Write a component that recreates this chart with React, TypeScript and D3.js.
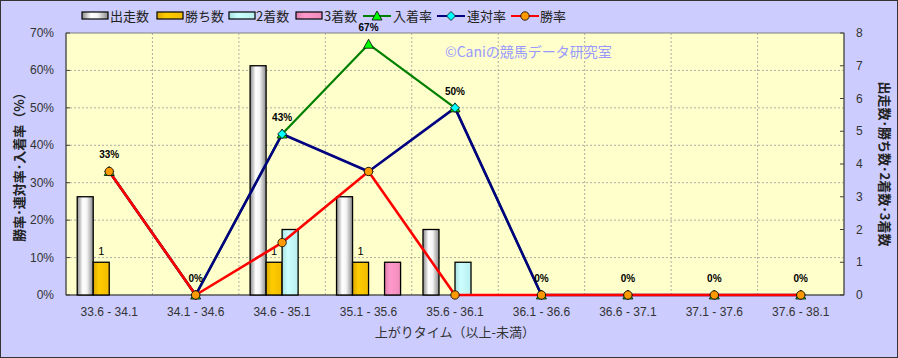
import React from "react";
import * as d3 from "d3";

const categories = ["33.6 - 34.1", "34.1 - 34.6", "34.6 - 35.1", "35.1 - 35.6", "35.6 - 36.1", "36.1 - 36.6", "36.6 - 37.1", "37.1 - 37.6", "37.6 - 38.1"];
const runs = [3, 0, 7, 3, 2, 0, 0, 0, 0];
const wins = [1, 0, 1, 1, 0, 0, 0, 0, 0];
const seconds = [0, 0, 2, 0, 1, 0, 0, 0, 0];
const thirds = [0, 0, 0, 1, 0, 0, 0, 0, 0];
const placeRate = [33, 0, 43, 67, 50, 0, 0, 0, 0];
const quinellaRate = [33, 0, 43, 33, 50, 0, 0, 0, 0];
const winRate = [33, 0, 14, 33, 0, 0, 0, 0, 0];
const placeLabels = ["33%", "0%", "43%", "67%", "50%", "0%", "0%", "0%", "0%"];
const leftTicks = [0, 10, 20, 30, 40, 50, 60, 70];
const rightTicks = [0, 1, 2, 3, 4, 5, 6, 7, 8];

const W = 898, H = 358;
const L = 66, R = 844, T = 33, B = 295;
const JP = "'Noto Sans CJK JP', sans-serif";
const NUM = "'Liberation Sans', Arial, sans-serif";

const barSeries = [
  { key: "出走数", values: runs, fill: "url(#gWhite)" },
  { key: "勝ち数", values: wins, fill: "url(#gGold)" },
  { key: "2着数", values: seconds, fill: "url(#gCyan)" },
  { key: "3着数", values: thirds, fill: "url(#gPink)" },
];

export default function App() {
  const x = d3.scaleBand<string>().domain(categories).range([L, R]).paddingInner(0).paddingOuter(0);
  const x1 = d3.scaleBand<string>().domain(barSeries.map((s) => s.key)).range([0, x.bandwidth()]).paddingInner(0).paddingOuter(0.7);
  const yL = d3.scaleLinear().domain([0, 70]).range([B, T]);
  const yR = d3.scaleLinear().domain([0, 8]).range([B, T]);
  const cx = (c: string) => (x(c) as number) + x.bandwidth() / 2;

  const lineGen = (vals: number[]) =>
    d3.line<number>().x((_, i) => cx(categories[i])).y((v) => yL(v))(vals) as string;

  const tri = (px: number, py: number) => `M${px},${py - 5}L${px + 5},${py + 4}L${px - 5},${py + 4}Z`;
  const dia = (px: number, py: number) => `M${px},${py - 4.5}L${px + 4.5},${py}L${px},${py + 4.5}L${px - 4.5},${py}Z`;

  const lineSeries = [
    { key: "入着率", values: placeRate, color: "#008000", width: 2.2, marker: "tri", mfill: "#00FF00" },
    { key: "連対率", values: quinellaRate, color: "#000080", width: 2.6, marker: "dia", mfill: "#00FFFF" },
    { key: "勝率", values: winRate, color: "#FF0000", width: 2.6, marker: "circ", mfill: "#FF9900" },
  ];

  const drawMarker = (m: string, fill: string, px: number, py: number, k: string) => {
    if (m === "tri") return <path key={k} d={tri(px, py)} fill={fill} stroke="#000" strokeWidth={0.8} />;
    if (m === "dia") return <path key={k} d={dia(px, py)} fill={fill} stroke="#000" strokeWidth={0.8} />;
    return <circle key={k} cx={px} cy={py} r={4.2} fill={fill} stroke="#000" strokeWidth={0.8} />;
  };

  // legend layout
  const legendItems = [
    { type: "bar", fill: "url(#gWhite)", label: "出走数", sx: 82, tx: 110 },
    { type: "bar", fill: "url(#gGold)", label: "勝ち数", sx: 157, tx: 185 },
    { type: "bar", fill: "url(#gCyan)", label: "2着数", sx: 229, tx: 256 },
    { type: "bar", fill: "url(#gPink)", label: "3着数", sx: 296, tx: 324 },
    { type: "line", color: "#008000", marker: "tri", mfill: "#00FF00", label: "入着率", sx: 363, tx: 393 },
    { type: "line", color: "#000080", marker: "dia", mfill: "#00FFFF", label: "連対率", sx: 437, tx: 467 },
    { type: "line", color: "#FF0000", marker: "circ", mfill: "#FF9900", label: "勝率", sx: 511, tx: 540 },
  ];
  const ly = 16;

  return (
    <svg width={W} height={H} style={{ position: "absolute", left: 0, top: 0 }}>
      <defs>
        <linearGradient id="gWhite" x1="0" x2="1" y1="0" y2="0">
          <stop offset="0" stopColor="#8a8a8a" />
          <stop offset="0.35" stopColor="#ffffff" />
          <stop offset="0.6" stopColor="#f4f4f4" />
          <stop offset="1" stopColor="#8a8a8a" />
        </linearGradient>
        <linearGradient id="gGold" x1="0" x2="1" y1="0" y2="0">
          <stop offset="0" stopColor="#d9a800" />
          <stop offset="0.35" stopColor="#ffcc00" />
          <stop offset="1" stopColor="#f0bc00" />
        </linearGradient>
        <linearGradient id="gCyan" x1="0" x2="1" y1="0" y2="0">
          <stop offset="0" stopColor="#a8e0e0" />
          <stop offset="0.35" stopColor="#ccffff" />
          <stop offset="1" stopColor="#b8eeee" />
        </linearGradient>
        <linearGradient id="gPink" x1="0" x2="1" y1="0" y2="0">
          <stop offset="0" stopColor="#e080b0" />
          <stop offset="0.35" stopColor="#ff99cc" />
          <stop offset="1" stopColor="#f08cbc" />
        </linearGradient>
      </defs>
      <rect x={0.5} y={0.5} width={W - 1} height={H - 1} fill="#CCCCFF" stroke="#333" strokeWidth={1} />
      <rect x={L} y={T} width={R - L} height={B - T} fill="#FFFFCC" stroke="#808080" strokeWidth={1} />

      {/* grid */}
      {leftTicks.slice(1, -1).map((t) => (
        <line key={"h" + t} x1={L} x2={R} y1={yL(t)} y2={yL(t)} stroke="#999" strokeWidth={0.8} strokeDasharray="2,2" />
      ))}
      {categories.slice(1).map((c) => (
        <line key={"v" + c} x1={x(c) as number} x2={x(c) as number} y1={T} y2={B} stroke="#999" strokeWidth={0.8} strokeDasharray="2,2" />
      ))}

      {/* axes */}
      <line x1={L} x2={L} y1={T} y2={B} stroke="#404040" strokeWidth={1} />
      <line x1={R} x2={R} y1={T} y2={B} stroke="#404040" strokeWidth={1} />
      <line x1={L} x2={R} y1={B} y2={B} stroke="#404040" strokeWidth={1} />
      {leftTicks.map((t) => (
        <g key={"lt" + t}>
          <line x1={L} x2={L + 4} y1={yL(t)} y2={yL(t)} stroke="#404040" />
          <text x={L - 12} y={yL(t) + 4} textAnchor="end" fontFamily={NUM} fontSize={12} fill="#333">{t}%</text>
        </g>
      ))}
      {rightTicks.map((t) => (
        <g key={"rt" + t}>
          <line x1={R - 4} x2={R} y1={yR(t)} y2={yR(t)} stroke="#404040" />
          <text x={R + 12} y={yR(t) + 4} textAnchor="start" fontFamily={NUM} fontSize={12} fill="#333">{t}</text>
        </g>
      ))}
      {categories.map((c) => (
        <text key={"xl" + c} x={cx(c)} y={316} textAnchor="middle" fontFamily={NUM} fontSize={12} fill="#333">{c}</text>
      ))}
      <text x={455} y={337} textAnchor="middle" fontFamily={JP} fontSize={13} fill="#333">上がりタイム（以上-未満）</text>
      <text transform={`translate(24,${(T + B) / 2}) rotate(-90)`} textAnchor="middle" fontFamily={JP} fontSize={13} fontWeight="bold" fill="#222">勝率･連対率･入着率（%）</text>
      <text transform={`translate(880,${(T + B) / 2}) rotate(90)`} textAnchor="middle" fontFamily={JP} fontSize={13} fontWeight="bold" fill="#222">出走数･勝ち数･2着数･3着数</text>

      {/* watermark */}
      <text x={445} y={57} fontFamily={JP} fontSize={14} fill="#9999FF">©Caniの競馬データ研究室</text>

      {/* bars */}
      {barSeries.map((s) =>
        s.values.map((v, i) =>
          v > 0 ? (
            <rect key={s.key + i} x={(x(categories[i]) as number) + (x1(s.key) as number)} y={yR(v)} width={x1.bandwidth()} height={B - yR(v)} fill={s.fill} stroke="#000" strokeWidth={1.3} />
          ) : null
        )
      )}
      {wins.map((v, i) =>
        v > 0 ? (
          <text key={"wl" + i} x={(x(categories[i]) as number) + (x1("勝ち数") as number) + x1.bandwidth() / 2} y={yR(v) - 7} textAnchor="middle" fontFamily={NUM} fontSize={11} fill="#000">{v}</text>
        ) : null
      )}

      {/* lines */}
      {lineSeries.map((s) => (
        <g key={s.key}>
          <path d={lineGen(s.values)} fill="none" stroke={s.color} strokeWidth={s.width} strokeLinejoin="round" />
        </g>
      ))}
      {lineSeries.map((s) => (
        <g key={s.key + "m"}>
          {s.values.map((v, i) => drawMarker(s.marker, s.mfill, cx(categories[i]), yL(v), s.key + i))}
        </g>
      ))}
      {placeRate.map((v, i) => (
        <text key={"pl" + i} x={cx(categories[i])} y={yL(v) - 13} textAnchor="middle" fontFamily={NUM} fontSize={10} fontWeight="bold" fill="#000">{placeLabels[i]}</text>
      ))}

      {/* legend */}
      {legendItems.map((it) => (
        <g key={"lg" + it.label}>
          {it.type === "bar" ? (
            <rect x={it.sx} y={ly - 4} width={26} height={7} fill={it.fill} stroke="#000" strokeWidth={1.2} />
          ) : (
            <g>
              <line x1={it.sx} x2={it.sx + 28} y1={ly} y2={ly} stroke={it.color} strokeWidth={2} />
              {drawMarker(it.marker as string, it.mfill as string, it.sx + 14, ly, "lm" + it.label)}
            </g>
          )}
          <text x={it.tx} y={ly + 5} fontFamily={JP} fontSize={13} fill="#222">{it.label}</text>
        </g>
      ))}
    </svg>
  );
}
